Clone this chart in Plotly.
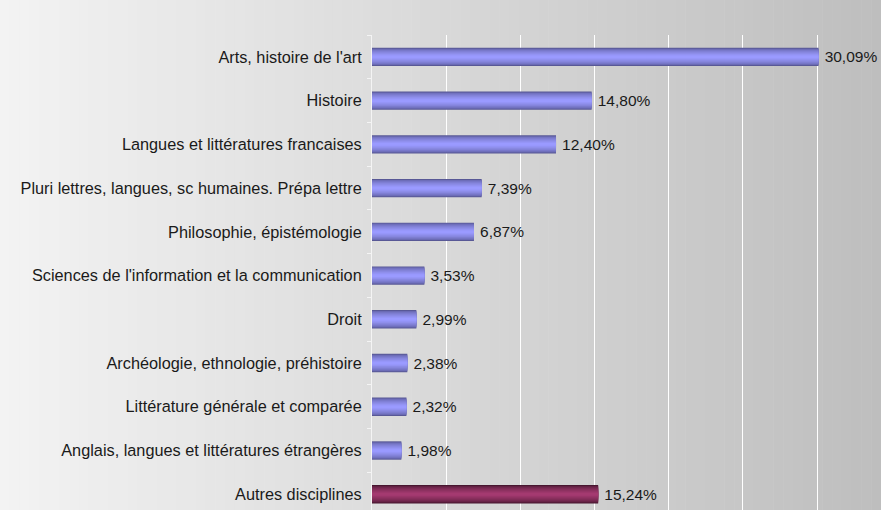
import plotly.graph_objects as go

categories = [
    "Arts, histoire de l'art",
    "Histoire",
    "Langues et littératures francaises",
    "Pluri lettres, langues, sc humaines. Prépa lettre",
    "Philosophie, épistémologie",
    "Sciences de l'information et la communication",
    "Droit",
    "Archéologie, ethnologie, préhistoire",
    "Littérature générale et comparée",
    "Anglais, langues et littératures étrangères",
    "Autres disciplines",
]
values = [30.09, 14.80, 12.40, 7.39, 6.87, 3.53, 2.99, 2.38, 2.32, 1.98, 15.24]
labels = ["\u2009" + f"{v:.2f}%".replace(".", ",") for v in values]

W, H = 881, 510
ml, mt = 372, 35

def lerp(a, b, t):
    return tuple(round(a[i] + (b[i] - a[i]) * t) for i in range(3))

blue_dark, blue_light = (88, 88, 150), (154, 154, 255)
red_dark, red_light = (72, 22, 48), (164, 58, 112)

fig = go.Figure()
n_layers = 9
full_w = 0.42
for k in range(n_layers):
    t = k / (n_layers - 1)
    w = full_w * (1 - t * 0.85)
    cols = []
    for c in categories:
        d, l = (red_dark, red_light) if c == "Autres disciplines" else (blue_dark, blue_light)
        cols.append("rgb(%d,%d,%d)" % lerp(d, l, t ** 0.6))
    fig.add_trace(go.Bar(
        x=values, y=categories, orientation="h", width=w,
        marker=dict(color=cols, line=dict(width=0)),
        text=labels if k == 0 else None,
        textposition="outside" if k == 0 else "none",
        textfont=dict(family="Liberation Sans, Arial", size=15.5, color="#1a1a1a"),
        cliponaxis=False, hoverinfo="skip", showlegend=False,
    ))

# background gradient strips
shapes = []
pw = W - ml
n = 90
for i in range(n):
    x0 = i * W / n
    x1 = (i + 1) * W / n + 0.5
    g = round(243 - (243 - 190) * ((i + 0.5) / n))
    shapes.append(dict(type="rect", xref="paper", yref="paper",
                       x0=(x0 - ml) / pw, x1=(x1 - ml) / pw,
                       y0=-0.1, y1=1 + mt / (H - mt) + 0.1,
                       fillcolor="rgb(%d,%d,%d)" % (g, g, g),
                       line=dict(width=0), layer="below"))

fig.update_layout(
    width=W, height=H,
    margin=dict(l=ml, r=0, t=mt, b=0, autoexpand=False),
    barmode="overlay",
    paper_bgcolor="rgba(0,0,0,0)", plot_bgcolor="rgba(0,0,0,0)",
    shapes=shapes,
    font=dict(family="Liberation Sans, Arial", size=16.3, color="#1a1a1a"),
    xaxis=dict(range=[0, 34.3], dtick=5, showgrid=True, gridcolor="white",
               gridwidth=1, showticklabels=False, zeroline=False, fixedrange=True),
    yaxis=dict(categoryorder="array", categoryarray=categories,
               range=[10.36, -0.5], autorange=False, automargin=False,
               showline=True, linecolor="#f4f4f4", linewidth=1,
               ticks="outside", tickson="boundaries", ticklen=4, tickcolor="#f4f4f4",
               showgrid=False, ticklabelstandoff=6, fixedrange=True,
               tickfont=dict(family="Liberation Sans, Arial", size=16.3, color="#1a1a1a")),
)

fig.write_html("out.html", config={"displayModeBar": False},
               post_script="document.body.style.margin='0';document.body.style.background='#f2f2f2';")
